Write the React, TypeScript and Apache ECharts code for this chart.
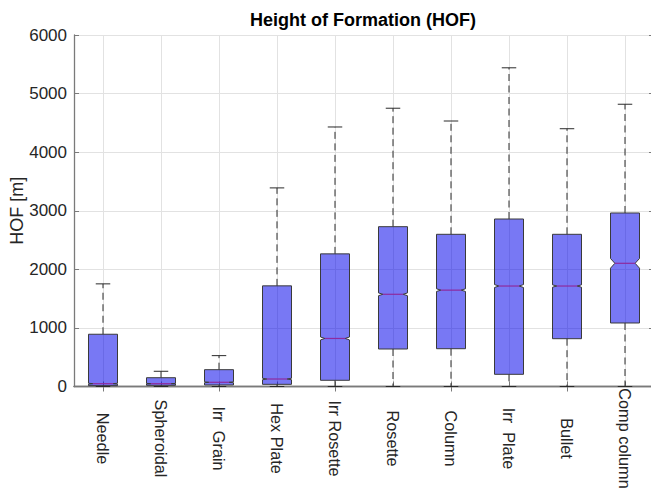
import React, { useEffect, useRef } from "react";
import * as echarts from "echarts";

const categories = ["Needle", "Spheroidal", "Irr  Grain", "Hex Plate", "Irr Rosette", "Rosette", "Column", "Irr  Plate", "Bullet", "Comp column"];
const whiskerLow = [0, 0, 0, 0, 0, 0, 0, 0, 0, 0];
const q1 = [14, 20, 26, 37, 106, 640, 645, 208, 816, 1084];
const median = [48, 48, 72, 128, 820, 1574, 1645, 1715, 1715, 2103];
const q3 = [892, 150, 287, 1718, 2264, 2728, 2598, 2859, 2598, 2962];
const whiskerHigh = [1752, 260, 527, 3390, 4430, 4750, 4532, 5440, 4400, 4818];
const notchLow = [40, 43, 64, 115, 795, 1550, 1622, 1690, 1695, 2020];
const notchHigh = [56, 53, 80, 141, 845, 1598, 1668, 1740, 1735, 2185];
const yTicks = [0, 1000, 2000, 3000, 4000, 5000, 6000];

const FONT = "'Liberation Sans', Arial, Helvetica, sans-serif";

export default function App() {
  const ref = useRef<HTMLDivElement>(null);
  useEffect(() => {
    if (!ref.current) return;
    const chart = echarts.init(ref.current, undefined, { renderer: "svg" });
    const data = categories.map((_, i) => [i, whiskerLow[i], q1[i], median[i], q3[i], whiskerHigh[i], notchLow[i], notchHigh[i]]);
    const axisGray = "#7a7a7a";
    const gridGray = "#e2e2e2";
    const option: any = {
      animation: false,
      backgroundColor: "#ffffff",
      title: {
        text: "Height of Formation (HOF)",
        left: 358,
        top: 6,
        textAlign: "center",
        textStyle: { fontFamily: FONT, fontSize: 18, fontWeight: "bold", color: "#000" },
      },
      grid: { left: 74, top: 35, width: 580, height: 351.5, containLabel: false, outerBoundsMode: "none" },
      xAxis: [
        {
          type: "category",
          data: categories,
          position: "bottom",
          boundaryGap: true,
          axisLine: { show: true, lineStyle: { color: axisGray, width: 1.3 } },
          axisTick: { show: true, inside: true, alignWithLabel: true, length: 5, lineStyle: { color: axisGray } },
          splitLine: { show: true, alignWithLabel: true, lineStyle: { color: gridGray, width: 1 } },
          axisLabel: {
            rotate: -90,
            align: "center",
            verticalAlign: "middle",
            margin: 52,
            interval: 0,
            fontFamily: FONT,
            fontSize: 16.3,
            color: "#262626",
          },
        },
        {
          type: "category",
          data: categories,
          position: "top",
          boundaryGap: true,
          axisLine: { show: true, lineStyle: { color: axisGray, width: 1.3 } },
          axisTick: { show: true, inside: true, alignWithLabel: true, length: 5, lineStyle: { color: axisGray } },
          splitLine: { show: false },
          axisLabel: { show: false },
        },
      ],
      yAxis: [
        {
          type: "value",
          min: yTicks[0],
          max: yTicks[yTicks.length - 1],
          interval: 1000,
          name: "HOF [m]",
          nameLocation: "middle",
          nameGap: 48,
          nameMoveOverlap: false,
          nameTextStyle: { fontFamily: FONT, fontSize: 18, color: "#262626" },
          axisLine: { show: true, lineStyle: { color: axisGray, width: 1.3 } },
          axisTick: { show: true, inside: true, length: 5, lineStyle: { color: axisGray } },
          splitLine: { show: true, lineStyle: { color: gridGray, width: 1 } },
          axisLabel: { margin: 7, fontFamily: FONT, fontSize: 17, color: "#262626", formatter: (v: number) => String(v) },
        },
        {
          type: "value",
          position: "right",
          min: yTicks[0],
          max: yTicks[yTicks.length - 1],
          interval: 1000,
          axisLine: { show: true, lineStyle: { color: axisGray, width: 1.3 } },
          axisTick: { show: true, inside: true, length: 5, lineStyle: { color: axisGray } },
          splitLine: { show: false },
          axisLabel: { show: false },
        },
      ],
      series: [
        {
          type: "custom",
          xAxisIndex: 0,
          yAxisIndex: 0,
          data,
          encode: { x: 0, y: [1, 2, 3, 4, 5] },
          renderItem: (params: any, api: any) => {
            const i = api.value(0);
            const lo = api.value(1);
            const b1 = api.value(2);
            const med = api.value(3);
            const b3 = api.value(4);
            const hi = api.value(5);
            const nLo = Math.max(api.value(6), b1);
            const nHi = Math.min(api.value(7), b3);
            const band = api.size([1, 0])[0];
            const hw = band * 0.25;
            const nw = hw * 0.7;
            const capW = hw * 0.5;
            const c = (v: number) => api.coord([i, v]);
            const cx = c(med)[0];
            const yLo = c(lo)[1];
            const yQ1 = c(b1)[1];
            const yMed = c(med)[1];
            const yQ3 = c(b3)[1];
            const yHi = c(hi)[1];
            const yNLo = c(nLo)[1];
            const yNHi = c(nHi)[1];
            const whiskerStyle = { stroke: "#2a2a2a", lineWidth: 1, lineDash: [7, 4.5] };
            const capStyle = { stroke: "#2a2a2a", lineWidth: 1 };
            return {
              type: "group",
              children: [
                { type: "line", shape: { x1: cx, y1: yQ3, x2: cx, y2: yHi }, style: whiskerStyle },
                { type: "line", shape: { x1: cx, y1: yQ1, x2: cx, y2: yLo }, style: whiskerStyle },
                { type: "line", shape: { x1: cx - capW, y1: yHi, x2: cx + capW, y2: yHi }, style: capStyle },
                { type: "line", shape: { x1: cx - capW, y1: yLo, x2: cx + capW, y2: yLo }, style: capStyle },
                {
                  type: "polygon",
                  shape: {
                    points: [
                      [cx - hw, yQ1], [cx - hw, yNLo], [cx - nw, yMed], [cx - hw, yNHi], [cx - hw, yQ3],
                      [cx + hw, yQ3], [cx + hw, yNHi], [cx + nw, yMed], [cx + hw, yNLo], [cx + hw, yQ1],
                    ],
                  },
                  style: { fill: "rgba(0, 0, 235, 0.53)", stroke: "#3a3a3a", lineWidth: 1 },
                },
                { type: "line", shape: { x1: cx - nw, y1: yMed, x2: cx + nw, y2: yMed }, style: { stroke: "#8e2a9e", lineWidth: 1.2 } },
              ],
            };
          },
        },
      ],
    };
    chart.setOption(option);
    return () => chart.dispose();
  }, []);
  return <div ref={ref} style={{ position: "absolute", left: 0, top: 0, width: 651, height: 493 }} />;
}
